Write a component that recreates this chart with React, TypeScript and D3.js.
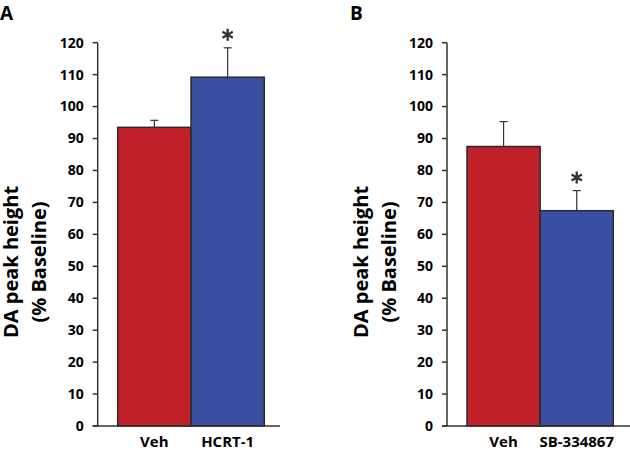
import React from 'react';
import * as d3 from 'd3';

// panel A
const catsA = ['Veh', 'HCRT-1'];
const meansA = [93.5, 109.2];
const errsA = [2.2, 9.2];
const sigA = [false, true];

// panel B
const catsB = ['Veh', 'SB-334867'];
const meansB = [87.5, 67.4];
const errsB = [7.8, 6.3];
const sigB = [false, true];

const yTicks = [0, 10, 20, 30, 40, 50, 60, 70, 80, 90, 100, 110, 120];
const barColors = ['#c1222a', '#3a4ea2'];

const font = '"Open Sans", "DejaVu Sans", sans-serif';
const star = d3.symbol(d3.symbolAsterisk, 100)();

const Panel = ({ letter, letterX, axisX, axisEnd, barRange, labelX, cats, means, errs, sig }) => {
  const y = d3.scaleLinear().domain([0, 120]).range([426, 42.7]);
  const x = d3.scaleBand().domain(cats).range(barRange).padding(0);

  return (
    <g>
      <text x={letterX} y={20} fontFamily={font} fontWeight="bold" fontSize={19}>{letter}</text>

      {/* y label */}
      <g transform={`translate(${labelX},${262}) rotate(-90)`} fontFamily={font} fontWeight="bold" fontSize={20} textAnchor="middle">
        <text x={0} y={0}>DA peak height</text>
        <text x={0} y={28}>(% Baseline)</text>
      </g>

      {/* bars */}
      {cats.map((c, i) => {
        const cx = x(c) + x.bandwidth() / 2;
        const top = y(means[i] + errs[i]);
        return (
          <g key={c}>
            <line x1={cx} x2={cx} y1={y(means[i])} y2={top} stroke="#333" strokeWidth={1.2} />
            <line x1={cx - 4} x2={cx + 4} y1={top} y2={top} stroke="#333" strokeWidth={1.2} />
            <rect x={x(c)} y={y(means[i])} width={x.bandwidth()} height={y(0) - y(means[i])}
              fill={barColors[i]} stroke="#2a2a2a" strokeWidth={1.5} />
            {sig[i] && (
              <path d={star} transform={`translate(${cx},${top - 13})`} stroke="#333" strokeWidth={2.3} fill="none" />
            )}
            <text x={cx} y={447} textAnchor="middle"
              fontFamily={font} fontWeight="bold" fontSize={15}>{c}</text>
          </g>
        );
      })}

      {/* axes */}
      <line x1={axisX} x2={axisX} y1={y(120)} y2={y(0)} stroke="#333" strokeWidth={1.5} />
      <line x1={axisX - 5} x2={axisEnd} y1={y(0)} y2={y(0)} stroke="#333" strokeWidth={1.5} />
      {yTicks.map(t => (
        <g key={t}>
          <line x1={axisX - 5} x2={axisX} y1={y(t)} y2={y(t)} stroke="#333" strokeWidth={1.5} />
          <text x={axisX - 14} y={y(t)} dy="0.35em" textAnchor="end"
            fontFamily={font} fontWeight="bold" fontSize={14}>{t}</text>
        </g>
      ))}
    </g>
  );
};

export default function App() {
  return (
    <svg width={630} height={451} style={{ display: 'block', position: 'absolute', left: 0, top: 0, background: '#fff' }}>
      <Panel letter="A" letterX={0} axisX={97.7} axisEnd={280} barRange={[117.7, 264.3]} labelX={18}
        cats={catsA} means={meansA} errs={errsA} sig={sigA} />
      <Panel letter="B" letterX={350} axisX={447} axisEnd={630} barRange={[467, 613.3]} labelX={368}
        cats={catsB} means={meansB} errs={errsB} sig={sigB} />
    </svg>
  );
}
